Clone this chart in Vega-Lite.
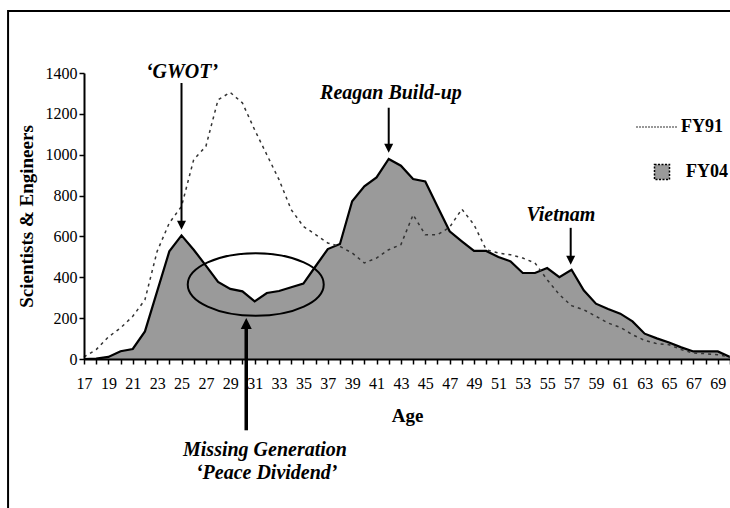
{
  "$schema": "https://vega.github.io/schema/vega-lite/v6.json",
  "width": 646,
  "height": 286,
  "autosize": {"type": "none"},
  "padding": {"left": 84, "top": 73, "right": 0, "bottom": 149},
  "background": "white",
  "config": {
    "view": {"stroke": null},
    "font": "Liberation Serif, Times New Roman, serif",
    "text": {"font": "Liberation Serif, Times New Roman, serif"}
  },
  "datasets": {
    "ages": [
      {"age": 17, "series": "FY04", "value": 0}, {"age": 18, "series": "FY04", "value": 2}, {"age": 19, "series": "FY04", "value": 10},
      {"age": 20, "series": "FY04", "value": 38}, {"age": 21, "series": "FY04", "value": 49}, {"age": 22, "series": "FY04", "value": 135},
      {"age": 23, "series": "FY04", "value": 331}, {"age": 24, "series": "FY04", "value": 527}, {"age": 25, "series": "FY04", "value": 605},
      {"age": 26, "series": "FY04", "value": 535}, {"age": 27, "series": "FY04", "value": 457}, {"age": 28, "series": "FY04", "value": 377},
      {"age": 29, "series": "FY04", "value": 343}, {"age": 30, "series": "FY04", "value": 331}, {"age": 31, "series": "FY04", "value": 282},
      {"age": 32, "series": "FY04", "value": 323}, {"age": 33, "series": "FY04", "value": 333}, {"age": 34, "series": "FY04", "value": 351},
      {"age": 35, "series": "FY04", "value": 369}, {"age": 36, "series": "FY04", "value": 454}, {"age": 37, "series": "FY04", "value": 538},
      {"age": 38, "series": "FY04", "value": 563}, {"age": 39, "series": "FY04", "value": 772}, {"age": 40, "series": "FY04", "value": 845},
      {"age": 41, "series": "FY04", "value": 889}, {"age": 42, "series": "FY04", "value": 979}, {"age": 43, "series": "FY04", "value": 946},
      {"age": 44, "series": "FY04", "value": 881}, {"age": 45, "series": "FY04", "value": 869}, {"age": 46, "series": "FY04", "value": 747},
      {"age": 47, "series": "FY04", "value": 625}, {"age": 48, "series": "FY04", "value": 576}, {"age": 49, "series": "FY04", "value": 529},
      {"age": 50, "series": "FY04", "value": 529}, {"age": 51, "series": "FY04", "value": 499}, {"age": 52, "series": "FY04", "value": 478},
      {"age": 53, "series": "FY04", "value": 421}, {"age": 54, "series": "FY04", "value": 421}, {"age": 55, "series": "FY04", "value": 445},
      {"age": 56, "series": "FY04", "value": 401}, {"age": 57, "series": "FY04", "value": 437}, {"age": 58, "series": "FY04", "value": 336},
      {"age": 59, "series": "FY04", "value": 271}, {"age": 60, "series": "FY04", "value": 245}, {"age": 61, "series": "FY04", "value": 222},
      {"age": 62, "series": "FY04", "value": 184}, {"age": 63, "series": "FY04", "value": 124}, {"age": 64, "series": "FY04", "value": 101},
      {"age": 65, "series": "FY04", "value": 81}, {"age": 66, "series": "FY04", "value": 57}, {"age": 67, "series": "FY04", "value": 37},
      {"age": 68, "series": "FY04", "value": 37}, {"age": 69, "series": "FY04", "value": 37}, {"age": 70, "series": "FY04", "value": 10},
      {"age": 17, "series": "FY91", "value": 10}, {"age": 18, "series": "FY91", "value": 46}, {"age": 19, "series": "FY91", "value": 108},
      {"age": 20, "series": "FY91", "value": 152}, {"age": 21, "series": "FY91", "value": 209}, {"age": 22, "series": "FY91", "value": 290},
      {"age": 23, "series": "FY91", "value": 527}, {"age": 24, "series": "FY91", "value": 666}, {"age": 25, "series": "FY91", "value": 747},
      {"age": 26, "series": "FY91", "value": 976}, {"age": 27, "series": "FY91", "value": 1041}, {"age": 28, "series": "FY91", "value": 1269},
      {"age": 29, "series": "FY91", "value": 1305}, {"age": 30, "series": "FY91", "value": 1253}, {"age": 31, "series": "FY91", "value": 1122},
      {"age": 32, "series": "FY91", "value": 1000}, {"age": 33, "series": "FY91", "value": 878}, {"age": 34, "series": "FY91", "value": 731},
      {"age": 35, "series": "FY91", "value": 649}, {"age": 36, "series": "FY91", "value": 609}, {"age": 37, "series": "FY91", "value": 568},
      {"age": 38, "series": "FY91", "value": 551}, {"age": 39, "series": "FY91", "value": 519}, {"age": 40, "series": "FY91", "value": 470},
      {"age": 41, "series": "FY91", "value": 494}, {"age": 42, "series": "FY91", "value": 535}, {"age": 43, "series": "FY91", "value": 560},
      {"age": 44, "series": "FY91", "value": 706}, {"age": 45, "series": "FY91", "value": 608}, {"age": 46, "series": "FY91", "value": 608},
      {"age": 47, "series": "FY91", "value": 645}, {"age": 48, "series": "FY91", "value": 734}, {"age": 49, "series": "FY91", "value": 657},
      {"age": 50, "series": "FY91", "value": 535}, {"age": 51, "series": "FY91", "value": 519}, {"age": 52, "series": "FY91", "value": 510},
      {"age": 53, "series": "FY91", "value": 494}, {"age": 54, "series": "FY91", "value": 470}, {"age": 55, "series": "FY91", "value": 388},
      {"age": 56, "series": "FY91", "value": 315}, {"age": 57, "series": "FY91", "value": 261}, {"age": 58, "series": "FY91", "value": 241},
      {"age": 59, "series": "FY91", "value": 209}, {"age": 60, "series": "FY91", "value": 176}, {"age": 61, "series": "FY91", "value": 155},
      {"age": 62, "series": "FY91", "value": 119}, {"age": 63, "series": "FY91", "value": 91}, {"age": 64, "series": "FY91", "value": 75},
      {"age": 65, "series": "FY91", "value": 70}, {"age": 66, "series": "FY91", "value": 46}, {"age": 67, "series": "FY91", "value": 29},
      {"age": 68, "series": "FY91", "value": 26}, {"age": 69, "series": "FY91", "value": 21}, {"age": 70, "series": "FY91", "value": 10}
    ],
    "notes": [
      {"text": "‘GWOT’", "age": 25.04, "value": 1406},
      {"text": "Reagan Build-up", "age": 42.18, "value": 1300},
      {"text": "Vietnam", "age": 56.13, "value": 705},
      {"text": "Missing Generation", "age": 31.85, "value": -445},
      {"text": "‘Peace Dividend’", "age": 31.99, "value": -559}
    ],
    "arrows": [
      {"age": 25, "value": 1351, "value2": 655},
      {"age": 42, "value": 1230, "value2": 1032},
      {"age": 56.93, "value": 642, "value2": 484}
    ],
    "bigArrow": [{"age": 30.31, "value": -349, "value2": 174}],
    "ellipse": [{"age": 31.09, "value": 364.7}],
    "frame": [{"age": 10.77, "age2": 80, "value": 1703.5, "value2": -1200}]
  },
  "data": {"name": "ages"},
  "encoding": {
    "x": {
      "field": "age", "type": "quantitative",
      "scale": {"domain": [17, 70], "nice": false, "zero": false},
      "axis": {
        "values": [17,18,19,20,21,22,23,24,25,26,27,28,29,30,31,32,33,34,35,36,37,38,39,40,41,42,43,44,45,46,47,48,49,50,51,52,53,54,55,56,57,58,59,60,61,62,63,64,65,66,67,68,69,70],
        "labelExpr": "datum.value % 2 == 1 ? datum.value : ''",
        "grid": false, "zindex": 1,
        "domainColor": "black", "domainWidth": 2,
        "tickColor": "black", "tickWidth": 1.5, "tickSize": 5,
        "labelFont": "serif", "labelFontSize": 16, "labelColor": "black",
        "labelPadding": 11, "labelOverlap": false, "labelFlush": false, "labelBound": false,
        "title": "Age", "titleFont": "serif", "titleFontSize": 19, "titleFontWeight": "bold",
        "titleColor": "black", "titlePadding": 15
      }
    },
    "y": {
      "field": "value", "type": "quantitative",
      "scale": {"domain": [0, 1400], "nice": false},
      "axis": {
        "values": [0, 200, 400, 600, 800, 1000, 1200, 1400],
        "format": "d",
        "grid": false, "zindex": 1,
        "domainColor": "black", "domainWidth": 2,
        "tickColor": "black", "tickWidth": 1.5, "tickSize": 5,
        "labelFont": "serif", "labelFontSize": 16, "labelColor": "black", "labelPadding": 2,
        "title": "Scientists & Engineers", "titleFont": "serif", "titleFontSize": 19,
        "titleFontWeight": "bold", "titleColor": "black", "titlePadding": 9
      }
    }
  },
  "layer": [
    {
      "transform": [{"filter": "datum.series == 'FY04'"}],
      "mark": {"type": "area", "opacity": 1},
      "encoding": {
        "fill": {
          "field": "series", "type": "nominal",
          "scale": {"domain": ["FY04"], "range": ["#9a9a9a"]},
          "legend": {
            "orient": "none", "legendX": 569, "legendY": 90, "title": null, "padding": 0,
            "symbolType": "square", "symbolSize": 225, "symbolStrokeColor": "black",
            "symbolStrokeWidth": 1.5, "symbolDash": [2, 1.5], "symbolOpacity": 1,
            "labelFont": "serif", "labelFontSize": 18, "labelFontWeight": "bold",
            "labelColor": "black", "labelOffset": 15
          }
        }
      }
    },
    {
      "transform": [{"filter": "datum.series == 'FY04'"}],
      "mark": {"type": "line", "color": "black", "strokeWidth": 2.2},
      "encoding": {}
    },
    {
      "transform": [{"filter": "datum.series == 'FY91'"}],
      "mark": {"type": "line", "strokeWidth": 1.5, "strokeDash": [3, 4]},
      "encoding": {
        "stroke": {
          "field": "series", "type": "nominal",
          "scale": {"domain": ["FY91"], "range": ["#333333"]},
          "legend": {
            "orient": "none", "legendX": 551, "legendY": 32, "title": null, "padding": 0,
            "symbolType": "stroke", "symbolSize": 1764, "symbolStrokeWidth": 1.2,
            "symbolDash": [2, 1],
            "labelFont": "serif", "labelFontSize": 18, "labelFontWeight": "bold",
            "labelColor": "black", "labelOffset": 2
          }
        }
      }
    },
    {
      "data": {"name": "frame"},
      "mark": {"type": "rect", "filled": false, "stroke": "black", "strokeWidth": 2, "clip": false},
      "encoding": {
        "x2": {"field": "age2"},
        "y2": {"field": "value2"}
      }
    },
    {
      "data": {"name": "ellipse"},
      "mark": {"type": "point", "shape": "M-1,0A1,0.46,0,1,1,1,0A1,0.46,0,1,1,-1,0Z", "size": 18496, "filled": false, "stroke": "black", "strokeWidth": 2, "opacity": 1},
      "encoding": {}
    },
    {
      "data": {"name": "arrows"},
      "mark": {"type": "rule", "color": "black", "strokeWidth": 2},
      "encoding": {"y2": {"field": "value2"}}
    },
    {
      "data": {"name": "arrows"},
      "mark": {"type": "point", "shape": "M-1,-1L1,-1L0,1Z", "size": 81, "filled": true, "color": "black", "opacity": 1},
      "encoding": {"y": {"field": "value2", "type": "quantitative"}}
    },
    {
      "data": {"name": "bigArrow"},
      "mark": {"type": "rule", "color": "black", "strokeWidth": 3.5, "clip": false},
      "encoding": {"y2": {"field": "value2"}}
    },
    {
      "data": {"name": "bigArrow"},
      "mark": {"type": "point", "shape": "M-1,1L1,1L0,-1Z", "size": 121, "filled": true, "color": "black", "opacity": 1},
      "encoding": {"y": {"field": "value2", "type": "quantitative"}}
    },
    {
      "data": {"name": "notes"},
      "mark": {"type": "text", "font": "serif", "fontSize": 20, "fontWeight": "bold", "fontStyle": "italic", "align": "center", "baseline": "middle", "color": "black", "clip": false},
      "encoding": {"text": {"field": "text"}}
    }
  ]
}
